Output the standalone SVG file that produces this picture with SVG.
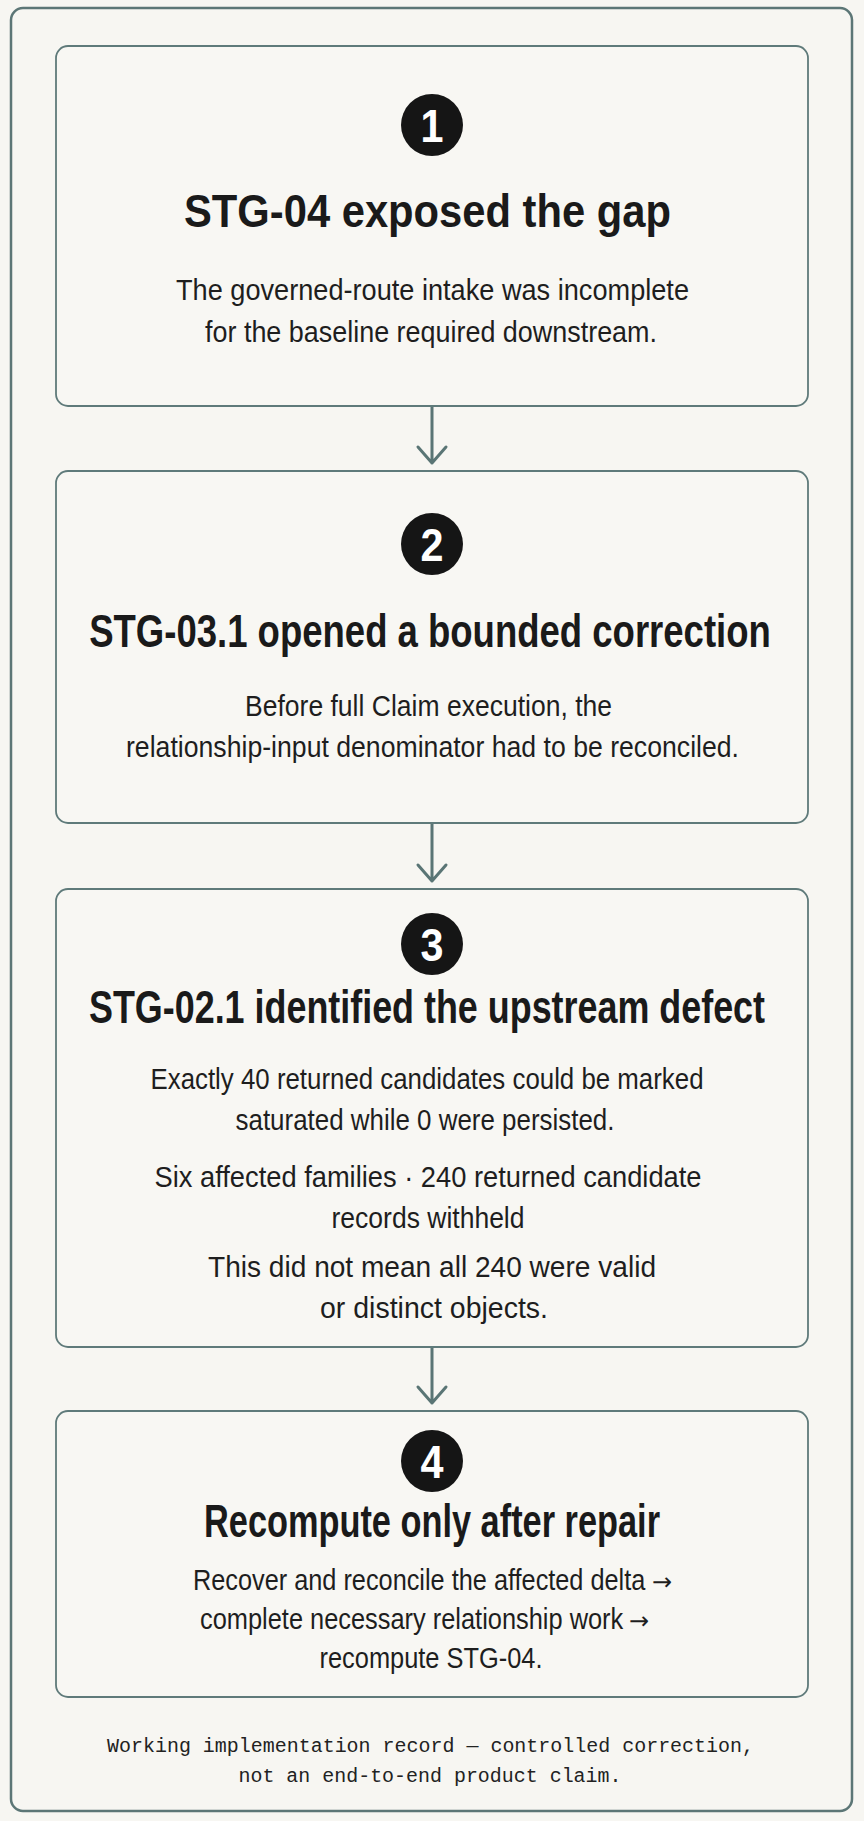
<svg xmlns="http://www.w3.org/2000/svg" width="864" height="1821" viewBox="0 0 864 1821">
  <defs>
    <style>
      .frame { fill: none; stroke: #5c7676; stroke-width: 2.5; }
      .box { fill: #f8f7f3; stroke: #5f7a7a; stroke-width: 1.8; }
      .conn { fill: none; stroke: #5a7575; stroke-width: 3; stroke-linecap: round; stroke-linejoin: round; }
      .badge { fill: #151515; }
      .num { font-family: "Liberation Sans", Arial, sans-serif; font-weight: bold; font-size: 46px; fill: #ffffff; text-anchor: middle; }
      .title { font-family: "Liberation Sans", Arial, sans-serif; font-weight: bold; font-size: 47px; fill: #1a1a1a; text-anchor: middle; }
      .body { font-family: "Liberation Sans", Arial, sans-serif; font-size: 29px; fill: #1e1e1e; text-anchor: middle; }
      .bodyl { font-family: "Liberation Sans", Arial, sans-serif; font-size: 29px; fill: #1e1e1e; text-anchor: start; }
      .arr { font-family: "DejaVu Sans", sans-serif; font-size: 24px; fill: #1e1e1e; text-anchor: start; }
      .mono { font-family: "Liberation Mono", "DejaVu Sans Mono", monospace; font-size: 19.6px; fill: #222222; text-anchor: middle; }
    </style>
  </defs>

  <rect x="0" y="0" width="864" height="1821" fill="#f7f6f2"/>
  <rect class="frame" x="11" y="8" width="841" height="1803" rx="12" ry="12"/>

  <g id="connectors">
    <path class="conn" d="M432 406 V463 M418 447 L432 463 L446 447"/>
    <path class="conn" d="M432 823 V881 M418 865 L432 881 L446 865"/>
    <path class="conn" d="M432 1347 V1403 M418 1387 L432 1403 L446 1387"/>
  </g>

  <g id="node1">
    <rect class="box" x="56" y="46" width="752" height="360" rx="12" ry="12"/>
    <circle class="badge" cx="432" cy="125" r="31"/>
    <text class="num" x="432" y="141.5" textLength="23" lengthAdjust="spacingAndGlyphs">1</text>
    <text class="title" x="427.5" y="227" textLength="487" lengthAdjust="spacingAndGlyphs">STG-04 exposed the gap</text>
    <text class="body" x="432.5" y="300" textLength="513" lengthAdjust="spacingAndGlyphs">The governed-route intake was incomplete</text>
    <text class="body" x="431" y="342" textLength="452" lengthAdjust="spacingAndGlyphs">for the baseline required downstream.</text>
  </g>

  <g id="node2">
    <rect class="box" x="56" y="471" width="752" height="352" rx="12" ry="12"/>
    <circle class="badge" cx="432" cy="544" r="31"/>
    <text class="num" x="432" y="560.5" textLength="23" lengthAdjust="spacingAndGlyphs">2</text>
    <text class="title" transform="translate(430 647) scale(0.8 1)" x="0" y="0" textLength="852" lengthAdjust="spacingAndGlyphs">STG-03.1 opened a bounded correction</text>
    <text class="body" x="428.5" y="716" textLength="367" lengthAdjust="spacingAndGlyphs">Before full Claim execution, the</text>
    <text class="body" x="432.5" y="757" textLength="613" lengthAdjust="spacingAndGlyphs">relationship-input denominator had to be reconciled.</text>
  </g>

  <g id="node3">
    <rect class="box" x="56" y="889" width="752" height="458" rx="12" ry="12"/>
    <circle class="badge" cx="432" cy="944" r="31"/>
    <text class="num" x="432" y="960.5" textLength="23" lengthAdjust="spacingAndGlyphs">3</text>
    <text class="title" transform="translate(427 1023) scale(0.8 1)" x="0" y="0" textLength="845" lengthAdjust="spacingAndGlyphs">STG-02.1 identified the upstream defect</text>
    <text class="body" x="427" y="1089" textLength="553" lengthAdjust="spacingAndGlyphs">Exactly 40 returned candidates could be marked</text>
    <text class="body" x="425" y="1130" textLength="379" lengthAdjust="spacingAndGlyphs">saturated while 0 were persisted.</text>
    <text class="body" x="428" y="1187" textLength="547" lengthAdjust="spacingAndGlyphs">Six affected families · 240 returned candidate</text>
    <text class="body" x="428" y="1228" textLength="193" lengthAdjust="spacingAndGlyphs">records withheld</text>
    <text class="body" x="432" y="1277" textLength="448" lengthAdjust="spacingAndGlyphs">This did not mean all 240 were valid</text>
    <text class="body" x="434" y="1318" textLength="228" lengthAdjust="spacingAndGlyphs">or distinct objects.</text>
  </g>

  <g id="node4">
    <rect class="box" x="56" y="1411" width="752" height="286" rx="12" ry="12"/>
    <circle class="badge" cx="432" cy="1461" r="31"/>
    <text class="num" x="432" y="1477.5" textLength="23" lengthAdjust="spacingAndGlyphs">4</text>
    <text class="title" x="432" y="1537" textLength="456" lengthAdjust="spacingAndGlyphs">Recompute only after repair</text>
    <text class="bodyl" transform="translate(193 1590) scale(0.88 1)" x="0" y="0" textLength="514" lengthAdjust="spacingAndGlyphs">Recover and reconcile the affected delta</text>
    <text class="arr" x="652" y="1590">→</text>
    <text class="bodyl" transform="translate(200 1629) scale(0.88 1)" x="0" y="0" textLength="481" lengthAdjust="spacingAndGlyphs">complete necessary relationship work</text>
    <text class="arr" x="629" y="1629">→</text>
    <text class="body" x="431" y="1668" textLength="223" lengthAdjust="spacingAndGlyphs">recompute STG-04.</text>
  </g>

  <g id="footer">
    <text class="mono" x="430.5" y="1752" textLength="647" lengthAdjust="spacingAndGlyphs">Working implementation record — controlled correction,</text>
    <text class="mono" x="430" y="1782" textLength="383" lengthAdjust="spacingAndGlyphs">not an end-to-end product claim.</text>
  </g>
</svg>
